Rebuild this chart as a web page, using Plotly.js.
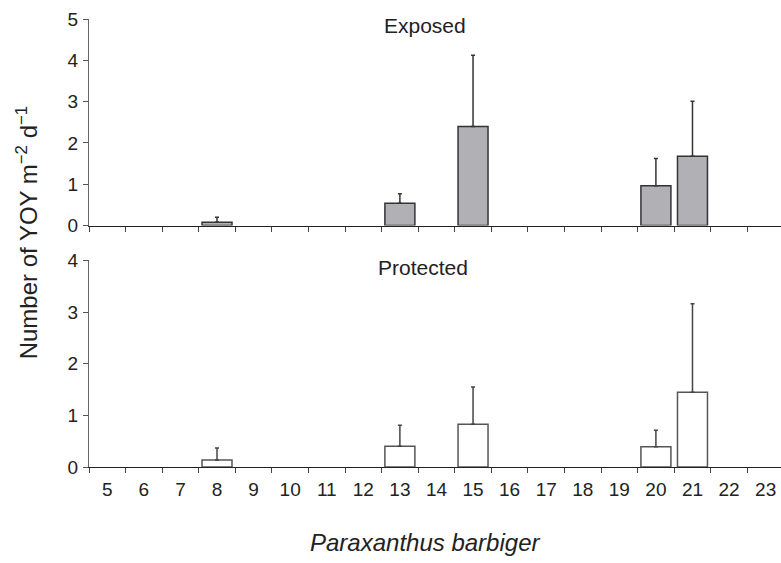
<!DOCTYPE html>
<html>
<head>
<meta charset="utf-8">
<script src="https://cdn.plot.ly/plotly-3.0.1.min.js"></script>
<style>html,body{margin:0;padding:0;background:#fff;}#chart{width:781px;height:563px;}</style>
</head>
<body>
<div id="chart"></div>
<script>
// Categories (x axis)
const categories = ['5','6','7','8','9','10','11','12','13','14','15','16','17','18','19','20','21','22','23'];
// Categories that have bars
const barCats = ['8','13','15','20','21'];
// Exposed: means and upper error-bar tips
const exposedMean = [0.08, 0.54, 2.40, 0.96, 1.68];
const exposedTop  = [0.20, 0.77, 4.12, 1.62, 3.01];
// Protected: means and upper error-bar tips
const protectedMean = [0.135, 0.40, 0.83, 0.39, 1.45];
const protectedTop  = [0.37, 0.81, 1.55, 0.71, 3.16];

const font = {family: '"Liberation Sans", Arial, Helvetica, sans-serif', color: '#222'};

function diff(a, b) { return a.map((v, i) => v - b[i]); }

const traces = [
  {
    type: 'bar', x: barCats, y: exposedMean, xaxis: 'x2', yaxis: 'y2',
    marker: {color: '#b1b1b5', line: {color: '#333', width: 1.5}},
    error_y: {type: 'data', symmetric: false, array: diff(exposedTop, exposedMean),
              arrayminus: barCats.map(() => 0), color: '#333', thickness: 1.5, width: 2},
    showlegend: false, hoverinfo: 'skip'
  },
  {
    type: 'bar', x: barCats, y: protectedMean, xaxis: 'x', yaxis: 'y',
    marker: {color: '#ffffff', line: {color: '#555', width: 1.5}},
    error_y: {type: 'data', symmetric: false, array: diff(protectedTop, protectedMean),
              arrayminus: barCats.map(() => 0), color: '#444', thickness: 1.5, width: 2},
    showlegend: false, hoverinfo: 'skip'
  }
];

const xBase = {
  type: 'category', categoryorder: 'array', categoryarray: categories,
  range: [-0.5, 18.42], tickson: 'boundaries', ticks: 'outside', ticklen: 5,
  tickcolor: '#444', tickwidth: 1, showline: true, linecolor: '#222', linewidth: 1.3,
  showgrid: false, zeroline: false, fixedrange: true
};
const yBase = {
  ticks: 'outside', ticklen: 5, tickcolor: '#555', tickwidth: 1, dtick: 1,
  showline: true, linecolor: '#666', linewidth: 1.2, showgrid: false, zeroline: false,
  tickfont: {size: 19, color: '#222'}, ticklabelstandoff: 1, fixedrange: true
};

const layout = {
  width: 781, height: 563,
  margin: {l: 89, r: 0, t: 19, b: 95.7},
  paper_bgcolor: '#fff', plot_bgcolor: 'rgba(0,0,0,0)',
  font: font,
  bargap: 0.18,
  xaxis: Object.assign({}, xBase, {anchor: 'y', tickfont: {size: 19, color: '#222'}, ticklabelstandoff: 5}),
  xaxis2: Object.assign({}, xBase, {anchor: 'y2', showticklabels: false}),
  yaxis: Object.assign({}, yBase, {domain: [0, 0.461], range: [0, 4]}),
  yaxis2: Object.assign({}, yBase, {domain: [0.539, 1], range: [0, 5]}),
  annotations: [
    {text: 'Exposed', xref: 'paper', yref: 'paper', x: 0.4856, y: 0.9866,
     xanchor: 'center', yanchor: 'middle', showarrow: false, font: {size: 21}},
    {text: 'Protected', xref: 'paper', yref: 'paper', x: 0.4827, y: 0.4446,
     xanchor: 'center', yanchor: 'middle', showarrow: false, font: {size: 21}},
    {text: 'Number of YOY m<sup>\u22122</sup> d<sup>\u22121</sup>', xref: 'paper', yref: 'paper',
     x: (27 - 89) / 692, y: 0.5215, xanchor: 'center', yanchor: 'middle', textangle: -90,
     showarrow: false, font: {size: 24}},
    {text: '<i>Paraxanthus barbiger</i>', xref: 'paper', yref: 'paper',
     x: 0.4856, y: -0.1689, xanchor: 'center', yanchor: 'middle', showarrow: false, font: {size: 24}}
  ]
};

Plotly.newPlot('chart', traces, layout, {displayModeBar: false, staticPlot: true});
</script>
</body>
</html>
